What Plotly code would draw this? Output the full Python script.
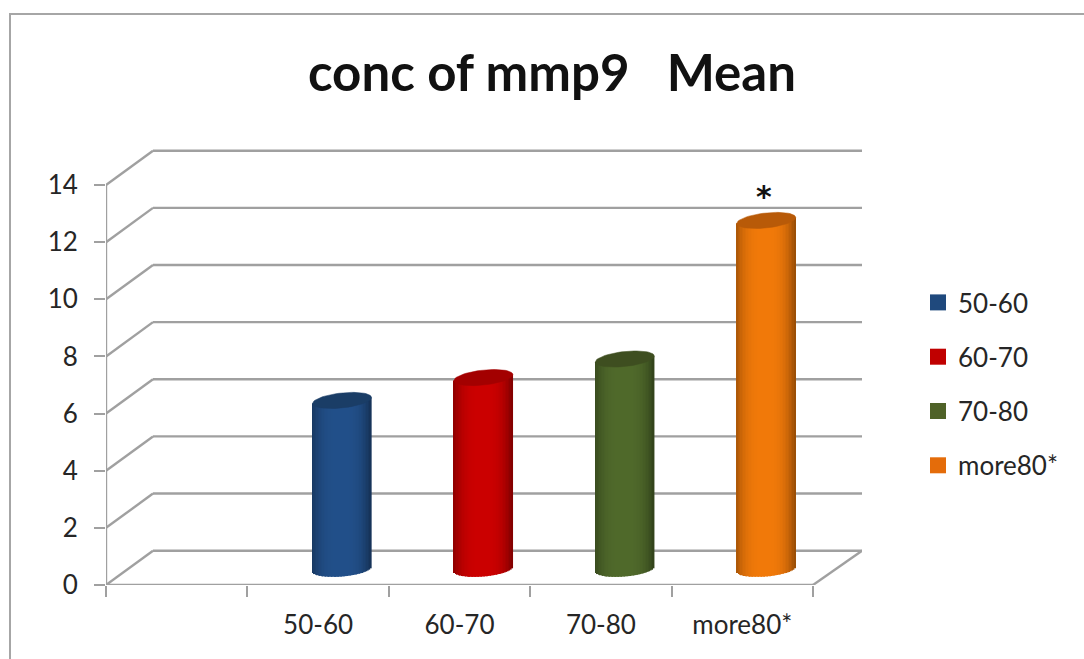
import math
import plotly.graph_objects as go

categories = ["50-60", "60-70", "70-80", "more80*"]
means = [5.9, 6.7, 7.35, 12.2]
y_ticks = [0, 2, 4, 6, 8, 10, 12, 14]
base_colors = ["#22508A", "#CC0000", "#506A2B", "#F27A0A"]
top_colors = ["#1A3D66", "#A30000", "#3E4E20", "#B85A08"]
legend_colors = ["#1F497D", "#C00000", "#4F6228", "#E46C0A"]

FONT = "Lato"
GRID = "#A0A0A0"
TEXT = "#262626"

# plot frame in pixels
L, R, T, B = 106, 862, 150, 585
W, H = 1084, 659
PX_X = 141.4
PX_Y = 28.57
TOP_PAD = 4
x_max = (R - L) / PX_X
y_max = (B - T + TOP_PAD) / PX_Y
depth_x = 47 / PX_X
depth_y = 34.3 / PX_Y
mid_x = 0.169
mid_y = 0.56
half_w = 29.5 / PX_X
ell_b = 7.5 / PX_Y
tilt = 3 / PX_Y
N = 40


def shade(hex_color, f):
    r, g, b = int(hex_color[1:3], 16), int(hex_color[3:5], 16), int(hex_color[5:7], 16)
    return f"rgb({int(r*f)},{int(g*f)},{int(b*f)})"


def brightness(t):
    edge = 0.62 if t > 0 else 0.70
    u = min(1.0, abs(t) / 1.0)
    return edge + (1 - edge) * (1 - u ** 3)


fig = go.Figure()

# front frame and floor / wall diagonals
fx, fy = [0, 0, None, 0, 5, None, 5, x_max, None], [0, 14, None, 0, 0, None, 0, depth_y, None]
for v in y_ticks:
    fx += [0, depth_x, None]
    fy += [v, v + depth_y, None]
fig.add_trace(go.Scatter(x=fx, y=fy, mode="lines", line=dict(color=GRID, width=2.4),
                         cliponaxis=False, showlegend=False, hoverinfo="skip"))

# back wall gridlines sit beneath the cylinders
shapes = []
for v in y_ticks:
    shapes.append(dict(type="line", xref="x", yref="y", layer="below",
                       x0=depth_x, x1=x_max, y0=v + depth_y, y1=v + depth_y,
                       line=dict(color=GRID, width=2.4)))

# chart outline
span_x = R - L
span_y = B - T + TOP_PAD
shapes.append(dict(type="path", xref="paper", yref="paper", layer="below",
                   path=f"M {(10-L)/span_x} {(B-659)/span_y} L {(10-L)/span_x} {(B-14)/span_y} L {(1084-L)/span_x} {(B-14)/span_y}",
                   line=dict(color="#A6A6A6", width=2)))

for i, (cat, val) in enumerate(zip(categories, means)):
    cx = i + 1.5 + mid_x
    ts = [-1 + (2 * k + 1) / N for k in range(N)]
    xs = [cx + half_w * t for t in ts]
    bases = [mid_y + tilt * 0.8 * t - ell_b * math.sqrt(max(0, 1 - t * t)) for t in ts]
    tops = [val + mid_y + tilt * t for t in ts]
    fig.add_trace(go.Bar(x=xs, y=[tp - bs for tp, bs in zip(tops, bases)], base=bases,
                         width=2 * half_w / N * 1.2,
                         marker=dict(color=[shade(base_colors[i], brightness(t)) for t in ts],
                                     line=dict(width=0)),
                         showlegend=False, hoverinfo="skip"))
    thetas = [2 * math.pi * k / 60 for k in range(61)]
    fig.add_trace(go.Scatter(
        x=[cx + half_w * math.cos(th) for th in thetas],
        y=[val + mid_y + tilt * math.cos(th) + ell_b * math.sin(th) for th in thetas],
        mode="lines", fill="toself", fillcolor=top_colors[i],
        line=dict(color=top_colors[i], width=0.5), showlegend=False, hoverinfo="skip"))

# legend entries
for cat, col in zip(categories, legend_colors):
    fig.add_trace(go.Scatter(x=[None], y=[None], mode="markers", name=cat, legendgroup=cat,
                             marker=dict(symbol="square", size=16, color=col,
                                         line=dict(width=0))))

fig.add_annotation(x=4 + 0.655, y=13.6, text="*", showarrow=False, yanchor="middle",
                   font=dict(family="DejaVu Sans", size=30, color="#111111", weight="bold"))

fig.update_layout(
    width=W, height=H,
    margin=dict(l=L, r=W - R, t=T - TOP_PAD, b=H - B, pad=0),
    paper_bgcolor="white", plot_bgcolor="white",
    barmode="overlay",
    shapes=shapes,
    title=dict(text="conc of mmp9\u00a0\u00a0\u00a0Mean", x=552 / W, xanchor="center",
               y=1 - 73 / H, yanchor="middle",
               font=dict(family=FONT, size=51, color="#111111", weight="bold")),
    font=dict(family=FONT, size=26, color=TEXT),
    xaxis=dict(range=[0, x_max], showgrid=False, zeroline=False, showline=False,
               tickmode="array", tickvals=[1.5, 2.5, 3.5, 4.5], ticktext=categories,
               ticks="", tickfont=dict(family=FONT, size=26, color=TEXT),
               ticklabelstandoff=22,
               minor=dict(ticks="outside", tickmode="array", tickvals=[0, 1, 2, 3, 4, 5],
                          ticklen=11, tickwidth=2, tickcolor=GRID, showgrid=False)),
    yaxis=dict(range=[0, y_max], showgrid=False, zeroline=False, showline=False,
               tickmode="array", tickvals=y_ticks, ticks="outside", ticklen=11, tickwidth=2,
               tickcolor=GRID, ticklabelstandoff=11, tickfont=dict(family=FONT, size=26, color=TEXT)),
    legend=dict(x=(918 - L) / span_x, xanchor="left", y=(B - 279) / span_y, yanchor="top",
                tracegroupgap=17.5, font=dict(family=FONT, size=26, color=TEXT),
                bgcolor="rgba(0,0,0,0)"),
    showlegend=True,
)

fig.write_html("out.html", post_script="document.body.style.margin='0';",
               config=dict(displayModeBar=False))
